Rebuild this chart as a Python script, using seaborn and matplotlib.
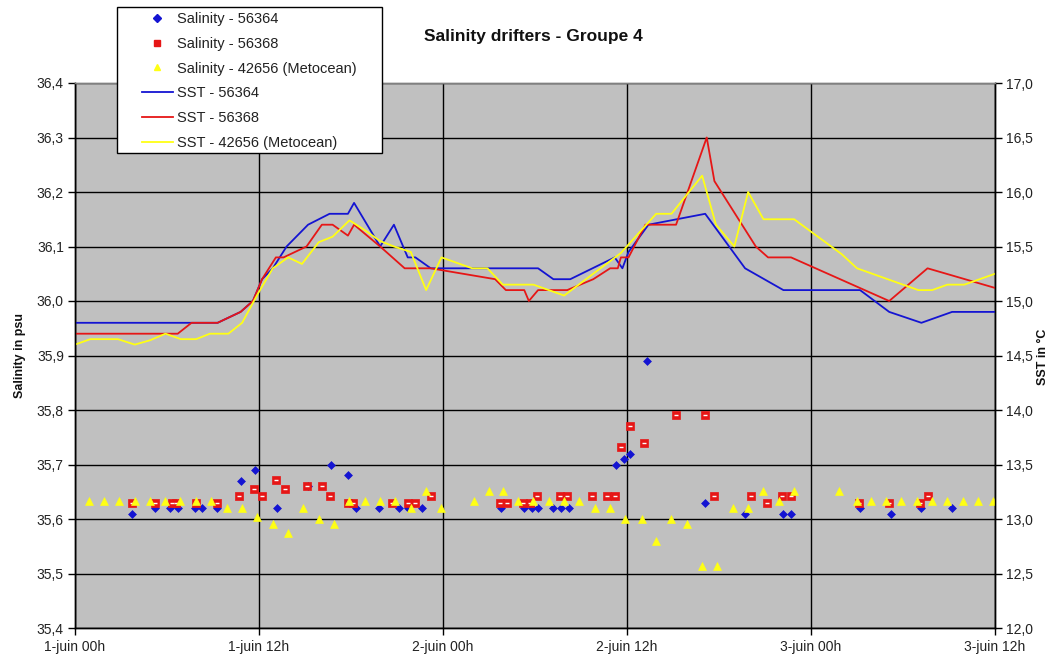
import matplotlib
matplotlib.use("Agg")
import matplotlib.pyplot as plt
from matplotlib.patches import Rectangle
from matplotlib.lines import Line2D
from matplotlib.ticker import FuncFormatter, MultipleLocator
import seaborn as sns
import pandas as pd

# ---------------- data ----------------
x_tick_hours = [0, 12, 24, 36, 48, 60]
x_tick_labels = ["1-juin 00h", "1-juin 12h", "2-juin 00h", "2-juin 12h", "3-juin 00h", "3-juin 12h"]

# SST lines (right axis, °C), hours since 1-juin 00h
sst_hours_56364 = [0, 7.5, 9.3, 10.8, 11.6, 12.2, 12.9, 13.8, 15.2, 16.6, 17.8, 18.2, 19.9, 20.8, 21.7,
                   22.2, 23.2, 30.2, 31.2, 32.3, 35.2, 35.7, 36.1, 37.4, 41.1, 43.7, 46.2, 51.2, 53.1,
                   55.2, 57.2, 60]
sst_56364 = [14.8, 14.8, 14.8, 14.9, 15.0, 15.2, 15.3, 15.5, 15.7, 15.8, 15.8, 15.9, 15.5, 15.7, 15.4,
             15.4, 15.3, 15.3, 15.2, 15.2, 15.4, 15.3, 15.45, 15.7, 15.8, 15.3, 15.1, 15.1, 14.9,
             14.8, 14.9, 14.9]

sst_hours_56368 = [0, 6.7, 7.6, 9.3, 10.8, 11.6, 12.2, 13.1, 13.6, 15.1, 16.1, 16.8, 17.8, 18.2, 19.9,
                   21.5, 23.2, 27.4, 28.1, 29.3, 29.6, 30.2, 32.1, 33.8, 34.9, 35.4, 35.6, 36.1, 37.2,
                   39.2, 41.2, 41.7, 44.4, 45.2, 46.7, 53.1, 55.6, 60]
sst_56368 = [14.7, 14.7, 14.8, 14.8, 14.9, 15.0, 15.2, 15.4, 15.4, 15.5, 15.7, 15.7, 15.6, 15.7, 15.5,
             15.3, 15.3, 15.2, 15.1, 15.1, 15.0, 15.1, 15.1, 15.2, 15.3, 15.3, 15.4, 15.4, 15.7,
             15.7, 16.5, 16.1, 15.5, 15.4, 15.4, 15.0, 15.3, 15.12]

sst_hours_42656 = [0, 1.0, 2.8, 3.9, 4.9, 5.9, 6.9, 7.9, 8.8, 10.0, 10.9, 11.9, 12.9, 13.9, 14.8, 15.9,
                   16.8, 17.9, 18.9, 19.9, 20.8, 21.9, 22.9, 23.9, 25.9, 26.9, 27.9, 29.9, 31.9, 35.6,
                   37.9, 38.9, 40.9, 41.8, 43.0, 43.9, 44.9, 46.9, 50.0, 51.0, 55.0, 55.9, 56.9, 58.0, 60]
sst_42656 = [14.6, 14.65, 14.65, 14.6, 14.64, 14.7, 14.65, 14.65, 14.7, 14.7, 14.8, 15.06, 15.3, 15.4,
             15.34, 15.54, 15.59, 15.74, 15.65, 15.55, 15.5, 15.45, 15.1, 15.4, 15.3, 15.3, 15.15,
             15.15, 15.05, 15.44, 15.8, 15.8, 16.15, 15.7, 15.5, 16.0, 15.75, 15.75, 15.43, 15.3,
             15.1, 15.1, 15.15, 15.15, 15.25]

# Salinity points (left axis, psu)
sal_hours_56364 = [3.7, 5.2, 6.2, 6.7, 7.8, 8.3, 9.25, 10.8, 11.75, 13.2, 15.2, 16.7, 17.8, 18.3, 19.8,
                   21.1, 21.7, 22.6, 27.8, 29.3, 29.8, 30.2, 31.2, 31.7, 32.2, 35.3, 35.8, 36.2, 37.3,
                   41.1, 43.7, 46.2, 46.7, 51.2, 53.2, 55.2, 57.2]
sal_56364 = [35.61, 35.62, 35.62, 35.62, 35.62, 35.62, 35.62, 35.67, 35.69, 35.62, 35.66, 35.70, 35.68,
             35.62, 35.62, 35.62, 35.62, 35.62, 35.62, 35.62, 35.62, 35.62, 35.62, 35.62, 35.62,
             35.70, 35.71, 35.72, 35.89, 35.63, 35.61, 35.61, 35.61, 35.62, 35.61, 35.62, 35.62]

sal_hours_56368 = [3.7, 5.2, 6.3, 6.6, 7.9, 9.25, 10.7, 11.7, 12.2, 13.1, 13.7, 15.1, 16.1, 16.6, 17.8,
                   18.1, 20.7, 21.7, 22.2, 23.2, 27.7, 28.2, 29.2, 29.7, 30.1, 31.6, 32.1, 33.7, 34.7,
                   35.2, 35.6, 36.2, 37.1, 39.2, 41.1, 41.7, 44.1, 45.1, 46.1, 46.7, 51.1, 53.1, 55.1, 55.6]
sal_56368 = [35.63, 35.63, 35.63, 35.63, 35.63, 35.63, 35.643, 35.655, 35.643, 35.671, 35.655, 35.661,
             35.661, 35.643, 35.63, 35.63, 35.63, 35.63, 35.63, 35.643, 35.63, 35.63, 35.63, 35.63,
             35.643, 35.643, 35.643, 35.643, 35.643, 35.643, 35.732, 35.771, 35.74, 35.79, 35.79,
             35.643, 35.643, 35.63, 35.643, 35.643, 35.63, 35.63, 35.63, 35.643]

sal_hours_42656 = [0.9, 1.9, 2.9, 3.9, 4.9, 5.9, 6.85, 7.9, 8.9, 9.9, 10.9, 11.9, 12.9, 13.9, 14.9, 15.9,
                   16.9, 17.9, 18.9, 19.9, 20.9, 21.9, 22.9, 23.9, 26.0, 27.0, 27.9, 28.9, 29.9, 30.9,
                   31.9, 32.9, 33.9, 34.9, 35.9, 37.0, 37.9, 38.9, 39.9, 40.9, 41.9, 42.9, 43.9, 44.9,
                   45.9, 46.9, 49.8, 51.0, 51.9, 52.9, 53.9, 54.9, 55.9, 56.9, 57.9, 58.9, 59.9]
sal_42656 = [35.633, 35.633, 35.633, 35.633, 35.633, 35.633, 35.633, 35.633, 35.633, 35.62, 35.62,
             35.604, 35.59, 35.575, 35.62, 35.60, 35.59, 35.633, 35.633, 35.633, 35.633, 35.62,
             35.652, 35.62, 35.633, 35.652, 35.652, 35.633, 35.633, 35.633, 35.633, 35.633, 35.62,
             35.62, 35.60, 35.60, 35.56, 35.60, 35.59, 35.514, 35.514, 35.62, 35.62, 35.652, 35.633,
             35.652, 35.652, 35.633, 35.633, 35.633, 35.633, 35.633, 35.633, 35.633, 35.633, 35.633,
             35.633]

labels = ["Salinity - 56364", "Salinity - 56368", "Salinity - 42656 (Metocean)",
          "SST - 56364", "SST - 56368", "SST - 42656 (Metocean)"]

# ---------------- style ----------------
BLUE = "#1414d2"
RED = "#e61616"
YELLOW = "#ffff14"
PLOT_BG = "#c0c0c0"

plt.rcParams["font.family"] = ["Liberation Sans", "DejaVu Sans"]

W, H = 1054, 657
fig = plt.figure(figsize=(W / 100, H / 100), dpi=100)
fig.patch.set_facecolor("white")

def fx(px):
    return px / W

def fy(py):
    return 1 - py / H

L, R, T, B = 75, 995, 83, 628
ax = fig.add_axes([fx(L), fy(B), (R - L) / W, (B - T) / H])
ax.set_facecolor(PLOT_BG)
ax2 = ax.twinx()
ax2.patch.set_visible(False)

# salinity points (left axis)
sns.scatterplot(x=sal_hours_56364, y=sal_56364, ax=ax, marker="D", s=16, color=BLUE,
                edgecolor=BLUE, linewidth=0.5, zorder=3, legend=False)
sns.scatterplot(x=sal_hours_56368, y=sal_56368, ax=ax, marker="s", s=26, color=RED,
                edgecolor=RED, linewidth=0.5, zorder=4, legend=False)
sns.scatterplot(x=sal_hours_56368, y=sal_56368, ax=ax, marker="_", s=8, color="white",
                linewidth=1.0, zorder=5, legend=False)
sns.scatterplot(x=sal_hours_42656, y=sal_42656, ax=ax, marker="^", s=32, color=YELLOW,
                edgecolor=YELLOW, linewidth=0.5, zorder=6, legend=False)

# SST lines (right axis)
for hrs, vals, col in [(sst_hours_56364, sst_56364, BLUE),
                       (sst_hours_56368, sst_56368, RED),
                       (sst_hours_42656, sst_42656, YELLOW)]:
    sns.lineplot(x=hrs, y=vals, ax=ax2, color=col, linewidth=1.3, sort=False,
                 estimator=None, legend=False)

# axes ranges & ticks
ax.set_xlim(0, 60)
ax.set_ylim(35.4, 36.4)
ax2.set_ylim(12.0, 17.0)
ax.set_xticks(x_tick_hours)
ax.set_xticklabels(x_tick_labels)
ax.yaxis.set_major_locator(MultipleLocator(0.1))
ax2.yaxis.set_major_locator(MultipleLocator(0.5))
comma = FuncFormatter(lambda v, p: f"{v:.1f}".replace(".", ","))
ax.yaxis.set_major_formatter(comma)
ax2.yaxis.set_major_formatter(comma)

ax.grid(True, color="black", linewidth=1.0)
ax.set_axisbelow(True)
ax2.grid(False)

ax.tick_params(axis="both", direction="out", length=5, width=1, color="black",
               labelsize=10, labelcolor="#222222")
ax.tick_params(axis="y", pad=3)
ax.tick_params(axis="x", pad=4)
ax2.tick_params(axis="y", direction="out", length=5, width=1, color="black",
                labelsize=10, labelcolor="#222222", pad=3)
ax.set_xlabel("")
ax.set_ylabel("")
ax2.set_ylabel("")

for a in (ax, ax2):
    for side in ("left", "right", "bottom"):
        a.spines[side].set_color("black")
        a.spines[side].set_linewidth(1.0)
    a.spines["top"].set_color("#808080")
    a.spines["top"].set_linewidth(1.0)

# title and axis labels
fig.text(fx(533), fy(37), "Salinity drifters - Groupe 4", ha="center", va="center",
         fontsize=12.5, fontweight="bold", color="#111111")
fig.text(fx(20), fy(356), "Salinity in psu", rotation=90, ha="center", va="center",
         fontsize=9, fontweight="bold", color="#111111")
fig.text(fx(1043), fy(357), "SST in °C", rotation=90, ha="center", va="center",
         fontsize=9, fontweight="bold", color="#111111")

# legend
handles = [
    Line2D([], [], linestyle="none", marker="D", markersize=4, color=BLUE),
    Line2D([], [], linestyle="none", marker="s", markersize=5, color=RED),
    Line2D([], [], linestyle="none", marker="^", markersize=5, color=YELLOW),
    Line2D([], [], color=BLUE, linewidth=1.3),
    Line2D([], [], color=RED, linewidth=1.3),
    Line2D([], [], color=YELLOW, linewidth=1.3),
]
fig.add_artist(Rectangle((fx(117), fy(153)), (382 - 117) / W, (153 - 7) / H,
                         transform=fig.transFigure, facecolor="white", edgecolor="black",
                         linewidth=1.0, zorder=4))
leg = fig.legend(handles, labels, loc="upper left", bbox_to_anchor=(fx(142), fy(12)),
                 frameon=False, borderpad=0, fontsize=10.5, handlelength=2.1,
                 handletextpad=0.3, labelspacing=0.74, borderaxespad=0)
for t in leg.get_texts():
    t.set_color("#222222")

fig.savefig("out.png", dpi=100, facecolor="white")
